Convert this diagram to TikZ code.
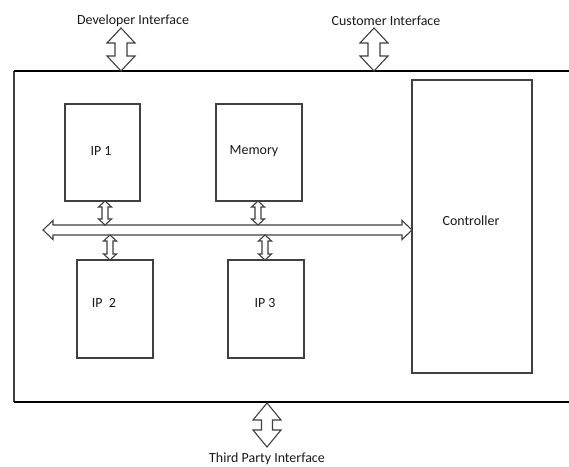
\documentclass[tikz,border=0pt]{standalone}
\usepackage{fontspec}
\setmainfont{Carlito}
\begin{document}
\begin{tikzpicture}[x=1bp,y=-1bp,
  box/.style={draw=black!75, line width=1.3bp, fill=white},
  lbl/.style={font=\fontsize{14}{16}\selectfont, text=black!90, inner sep=0pt},
  hollow/.style={draw=black!75, line width=1.1bp, fill=white, line join=miter},
  frame/.style={draw=black, line width=2bp},
  side/.style={draw=black!75, line width=1.5bp}]

% vertical hollow double arrow: x, y top, y bottom, shaft half width, head half width, head length
\newcommand\vdbl[6]{%
  \draw[hollow] (#1-#4,#2+#6) -- (#1-#5,#2+#6) -- (#1,#2) -- (#1+#5,#2+#6) -- (#1+#4,#2+#6)
    -- (#1+#4,#3-#6) -- (#1+#5,#3-#6) -- (#1,#3) -- (#1-#5,#3-#6) -- (#1-#4,#3-#6) -- cycle;}
% horizontal hollow double arrow: y, x left, x right, shaft half width, head half width, head length
\newcommand\hdbl[6]{%
  \draw[hollow] (#2+#6,#1-#4) -- (#2+#6,#1-#5) -- (#2,#1) -- (#2+#6,#1+#5) -- (#2+#6,#1+#4)
    -- (#3-#6,#1+#4) -- (#3-#6,#1+#5) -- (#3,#1) -- (#3-#6,#1-#5) -- (#3-#6,#1-#4) -- cycle;}

\useasboundingbox (0,0) rectangle (569,467);

% chip outline (open on the right)
\coordinate (tl) at (14,71.5);
\coordinate (bl) at (14,402);
\coordinate (tr) at (569,71.5);
\coordinate (br) at (569,402);
\draw[side] (tl) -- (bl);
\draw[frame] (tl) -- (tr);
\draw[frame] (bl) -- (br);

% blocks
\draw[box] (65,104) rectangle (140,201);
\node[lbl] (ip1) at (101,151) {IP 1};
\draw[box] (216,104) rectangle (302,201);
\node[lbl] (mem) at (254,151) {Memory};
\draw[box] (77,260) rectangle (153,358);
\node[lbl] (ip2) at (104,303) {IP\ \ 2};
\draw[box] (228,260) rectangle (304,358);
\node[lbl] (ip3) at (265,303) {IP 3};
\draw[box] (412,80) rectangle (532,373);
\node[lbl] (ctrl) at (471,221) {Controller};

% internal bus
\hdbl{230}{43}{412}{5}{9.5}{10}

% block to bus links
\vdbl{105}{201}{225}{3}{6.5}{6}
\vdbl{258}{201}{225}{3}{6.5}{6}
\vdbl{110}{235}{260}{3}{6.5}{6}
\vdbl{265}{235}{260}{3}{6.5}{6}

% external interfaces
\node[lbl] (dev) at (133,21) {Developer Interface};
\node[lbl] (cust) at (386,21) {Customer Interface};
\node[lbl] (third) at (267,459) {Third Party Interface};
\vdbl{121}{28}{71}{6}{14}{15}
\vdbl{374}{28}{71}{6}{14}{15}
\vdbl{267}{403}{447}{5.5}{14}{17}
\end{tikzpicture}
\end{document}
